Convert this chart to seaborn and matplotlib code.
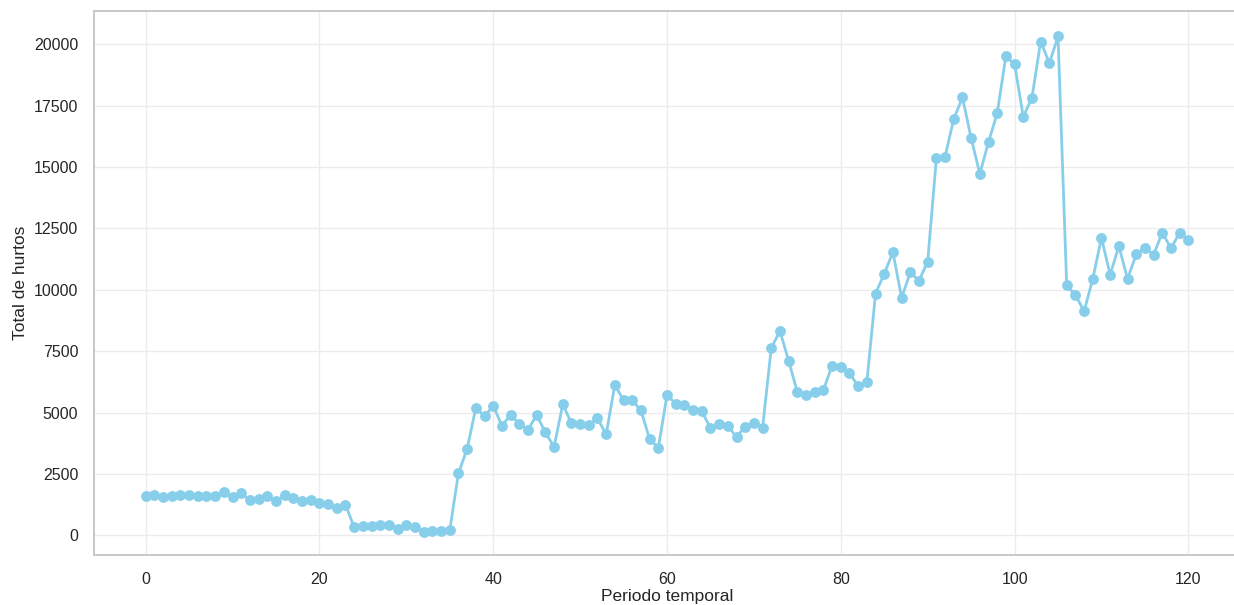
import matplotlib
matplotlib.use("Agg")
import matplotlib.pyplot as plt
import seaborn as sns
import pandas as pd

# Total de hurtos por periodo temporal
periodo = list(range(121))
total_hurtos = [
    1620, 1650, 1560, 1610, 1650, 1650, 1610, 1610, 1610, 1760,
    1560, 1720, 1420, 1475, 1585, 1380, 1626, 1516, 1380, 1448,
    1311, 1257, 1120, 1243, 330, 382, 382, 423, 423, 273,
    437, 328, 123, 191, 191, 219, 2530, 3520, 5200, 4844,
    5278, 4465, 4898, 4546, 4302, 4898, 4194, 3598, 5332, 4573,
    4532, 4492, 4763, 4112, 6131, 5495, 5495, 5088, 3923, 3557,
    5711, 5359, 5318, 5102, 5047, 4375, 4540, 4460, 4000, 4425,
    4555, 4380, 7632, 8315, 7104, 5835, 5700, 5822, 5916, 6915,
    6874, 6604, 6078, 6240, 9844, 10654, 11525, 9672, 10706, 10368,
    11146, 15352, 15420, 16951, 17832, 16179, 14715, 16016, 17182, 19512,
    19187, 17046, 17818, 20108, 19228, 20312, 10176, 9797, 9119, 10447,
    12114, 10610, 11775, 10447, 11436, 11707, 11423, 12331, 11680, 12331,
    12033,
]

df = pd.DataFrame({"Periodo temporal": periodo, "Total de hurtos": total_hurtos})

sns.set_theme(style="whitegrid", context="notebook",
              rc={"grid.color": "#ececec", "axes.edgecolor": "#c8c8c8",
                  "axes.linewidth": 1.4})
plt.rcParams["font.family"] = ["Liberation Sans", "DejaVu Sans"]

fig = plt.figure(figsize=(12.34, 6.05), dpi=100)
ax = fig.add_axes([93.5 / 1234, 50 / 605, 1147 / 1234, 544 / 605])

sns.lineplot(
    data=df, x="Periodo temporal", y="Total de hurtos", ax=ax,
    color="skyblue", linewidth=2, marker="o", markersize=7.8,
    markeredgecolor="skyblue", markeredgewidth=0,
)

ax.set_xlim(-6, 126)
ax.set_ylim(-800, 21350)
ax.set_yticks(range(0, 20001, 2500))
ax.set_xlabel("Periodo temporal", fontsize=12.5, labelpad=2)
ax.set_ylabel("Total de hurtos", fontsize=12.5, labelpad=4)
ax.tick_params(axis="x", labelsize=11.5, pad=6)
ax.tick_params(axis="y", labelsize=11.5, pad=5)

fig.savefig("out.png", dpi=100)
